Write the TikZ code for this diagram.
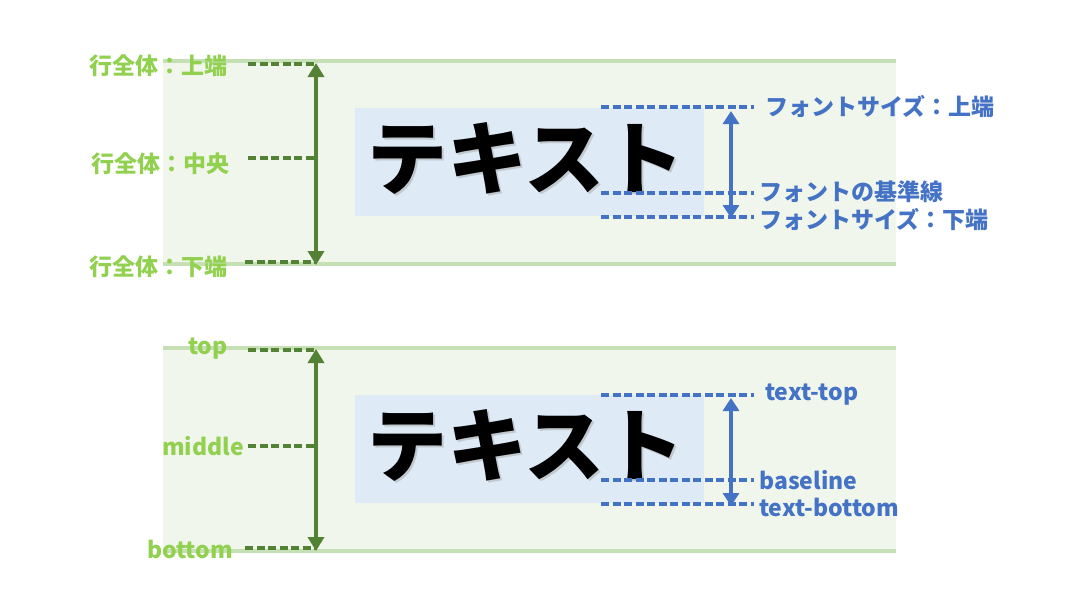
\documentclass[tikz,border=0pt]{standalone}
\usepackage{fontspec}
\setmainfont{Noto Sans CJK JP}
\usetikzlibrary{arrows.meta}
\definecolor{bandfill}{HTML}{F1F6EC}
\definecolor{bandline}{HTML}{C5E0B4}
\definecolor{dkgreen}{HTML}{548235}
\definecolor{ltgreen}{HTML}{92D050}
\definecolor{ablue}{HTML}{4472C4}
\definecolor{boxblue}{HTML}{DEEBF7}
\tikzset{
  band/.style={fill=bandfill, draw=none},
  bandedge/.style={draw=bandline, line width=3.5pt},
  gdash/.style={draw=dkgreen, line width=3.2pt, dash pattern=on 8pt off 3.5pt},
  bdash/.style={draw=ablue, line width=3.2pt, dash pattern=on 8pt off 3.5pt},
  garrow/.style={draw=dkgreen, line width=4.5pt, {Triangle[length=14pt,width=16pt]}-{Triangle[length=14pt,width=16pt]}},
  barrow/.style={draw=ablue, line width=4.5pt, {Triangle[length=13pt,width=16pt]}-{Triangle[length=13pt,width=16pt]}},
  glabel/.style={text=ltgreen, font=\bfseries\fontsize{23}{27}\selectfont, inner sep=0pt},
  blabel/.style={text=ablue, font=\bfseries\fontsize{23}{27}\selectfont, inner sep=0pt, anchor=west},
  bigtext/.style={font=\bfseries\fontsize{80}{80}\selectfont, inner sep=0pt, anchor=base},
  textbox/.style={fill=boxblue, draw=none}
}
\begin{document}
\begin{tikzpicture}[x=1pt,y=-1pt]
\useasboundingbox (0,0) rectangle (1078,610);
% ---------- top panel ----------
\fill[band] (163,61) rectangle (896,264);
\draw[bandedge] (163,61) -- (896,61);
\draw[bandedge] (163,264) -- (896,264);
\fill[textbox] (355,108) rectangle (704,216);
\node[bigtext, text=black!35, opacity=0.5] at (528,190) {テキスト};
\node[bigtext] (t1) at (526,188) {テキスト};
% green labels
\node[glabel] (l1) at (158,66) {行全体：上端};
\node[glabel] (l2) at (160,164) {行全体：中央};
\node[glabel] (l3) at (158,267) {行全体：下端};
\coordinate (g1a) at (248,64);  \coordinate (g1b) at (316,64);
\coordinate (g2a) at (248,158); \coordinate (g2b) at (316,158);
\coordinate (g3a) at (245,262); \coordinate (g3b) at (316,262);
\draw[gdash] (g1a) -- (g1b);
\draw[gdash] (g2a) -- (g2b);
\draw[gdash] (g3a) -- (g3b);
\coordinate (ga1) at (316,63); \coordinate (ga2) at (316,265);
\draw[garrow] (ga1) -- (ga2);
% blue
\coordinate (b1a) at (601,107); \coordinate (b1b) at (754,107);
\coordinate (b2a) at (601,193); \coordinate (b2b) at (754,193);
\coordinate (b3a) at (601,217); \coordinate (b3b) at (754,217);
\draw[bdash] (b1a) -- (b1b);
\draw[bdash] (b2a) -- (b2b);
\draw[bdash] (b3a) -- (b3b);
\coordinate (ba1) at (731,111); \coordinate (ba2) at (731,218);
\draw[barrow] (ba1) -- (ba2);
\node[blabel] (r1) at (765,107) {フォントサイズ：上端};
\node[blabel] (r2) at (759,192) {フォントの基準線};
\node[blabel] (r3) at (759,220) {フォントサイズ：下端};
% ---------- bottom panel ----------
\fill[band] (163,348) rectangle (896,551);
\draw[bandedge] (163,348) -- (896,348);
\draw[bandedge] (163,551) -- (896,551);
\fill[textbox] (355,395) rectangle (704,503);
\node[bigtext, text=black!35, opacity=0.5] at (528,477) {テキスト};
\node[bigtext] (t2) at (526,475) {テキスト};
\node[glabel] (m1) at (208,349) {top};
\node[glabel] (m2) at (203,446) {middle};
\node[glabel] (m3) at (190,549) {bottom};
\coordinate (h1a) at (248,350); \coordinate (h1b) at (316,350);
\coordinate (h2a) at (248,446); \coordinate (h2b) at (316,446);
\coordinate (h3a) at (245,548); \coordinate (h3b) at (316,548);
\draw[gdash] (h1a) -- (h1b);
\draw[gdash] (h2a) -- (h2b);
\draw[gdash] (h3a) -- (h3b);
\coordinate (ha1) at (316,349); \coordinate (ha2) at (316,551);
\draw[garrow] (ha1) -- (ha2);
\coordinate (c1a) at (601,395); \coordinate (c1b) at (754,395);
\coordinate (c2a) at (601,480); \coordinate (c2b) at (754,480);
\coordinate (c3a) at (601,504); \coordinate (c3b) at (754,504);
\draw[bdash] (c1a) -- (c1b);
\draw[bdash] (c2a) -- (c2b);
\draw[bdash] (c3a) -- (c3b);
\coordinate (ca1) at (731,398); \coordinate (ca2) at (731,506);
\draw[barrow] (ca1) -- (ca2);
\node[blabel] (s1) at (765,395) {text-top};
\node[blabel] (s2) at (759,480) {baseline};
\node[blabel] (s3) at (759,507) {text-bottom};
\end{tikzpicture}
\end{document}
